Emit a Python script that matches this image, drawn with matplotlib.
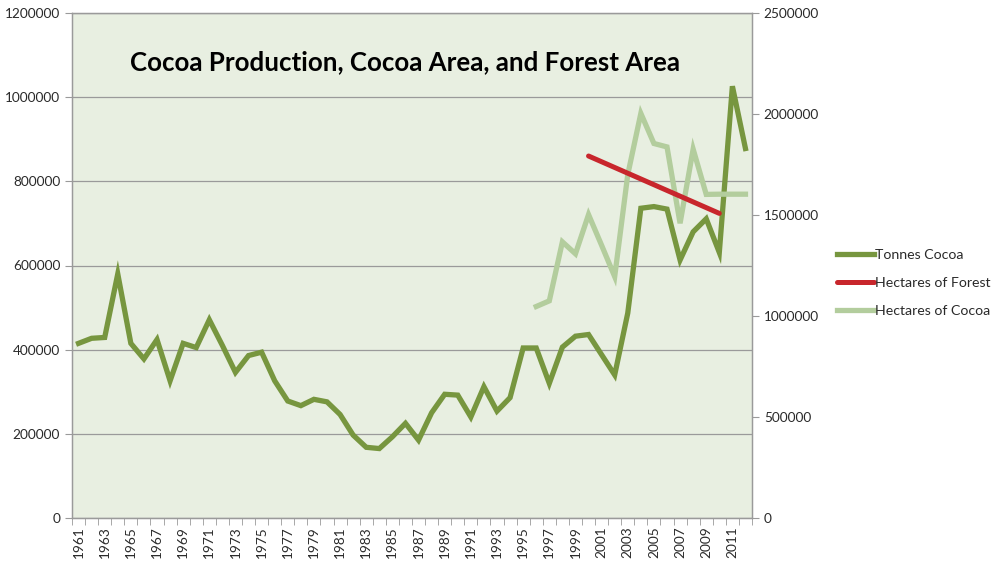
import matplotlib
matplotlib.use('Agg')
import matplotlib.pyplot as plt
from matplotlib.ticker import FixedLocator, NullFormatter, FuncFormatter

# yearly data
years = list(range(1961, 2013))
tonnes_cocoa = [415000, 427000, 429000, 580000, 415000, 378000, 424000, 326000, 415000, 405000,
                471000, 410000, 346000, 386000, 394000, 326000, 278000, 267000, 282000, 276000,
                246000, 197000, 168000, 165000, 193000, 225000, 185000, 250000, 294000, 292000,
                240000, 312000, 254000, 286000, 404000, 404000, 320000, 406000, 432000, 436000,
                388000, 340000, 487000, 736000, 740000, 734000, 613000, 680000, 711000, 631000,
                1026000, 878000]

cocoa_area_years = list(range(1996, 2013))
cocoa_area = [1047000, 1075000, 1367000, 1308000, 1502000, 1350000, 1195000, 1700000, 2003000,
              1854000, 1837000, 1459000, 1826000, 1602000, 1603000, 1603000, 1603000]

forest_years = [2000, 2010]
forest_area = [1792000, 1508000]

plt.rcParams['font.family'] = ['Lato', 'DejaVu Sans']

dark_green = '#77963f'
light_green = '#b3cd9d'
red = '#c8262c'
grid_col = '#9a9a9a'
txt_col = '#2a2a2a'

fig = plt.figure(figsize=(9.91, 5.62), dpi=100)
ax1 = fig.add_axes([72/991, 1-518/562, 680/991, 505/562])
ax1.set_facecolor('#e8efe1')
ax2 = ax1.twinx()

idx = {y: i for i, y in enumerate(years)}

l1, = ax1.plot([idx[y] for y in years], tonnes_cocoa, color=dark_green, lw=3.8,
               solid_joinstyle='miter', label='Tonnes Cocoa', zorder=3)
l3, = ax2.plot([idx[y] for y in cocoa_area_years], cocoa_area, color=light_green, lw=3.8,
               solid_joinstyle='miter', label='Hectares of Cocoa', zorder=2)
l2, = ax2.plot([idx[y] for y in forest_years], forest_area, color=red, lw=3.6,
               solid_capstyle='round', label='Hectares of Forest', zorder=3)

ax1.set_xlim(-0.5, len(years) - 0.5)
ax1.set_ylim(0, 1200000)
ax2.set_ylim(0, 2500000)
ax1.set_yticks(range(0, 1200001, 200000))
ax2.set_yticks(range(0, 2500001, 500000))
plain = FuncFormatter(lambda v, p: '%d' % v)
ax1.yaxis.set_major_formatter(plain)
ax2.yaxis.set_major_formatter(plain)
ax1.yaxis.grid(True, color=grid_col, lw=0.9)
ax1.set_axisbelow(True)

ax1.set_xticks(range(0, len(years), 2))
ax1.set_xticklabels([str(y) for y in years[::2]], rotation=90)
ax1.xaxis.set_minor_locator(FixedLocator([i - 0.5 for i in range(len(years) + 1)]))
ax1.xaxis.set_minor_formatter(NullFormatter())
ax1.tick_params(axis='x', which='major', length=0, pad=6)
ax1.tick_params(axis='x', which='minor', length=5, color=grid_col)

for ax in (ax1, ax2):
    ax.tick_params(axis='y', length=5, color=grid_col, labelsize=9.8, labelcolor=txt_col, pad=3.5)
    ax.tick_params(axis='x', labelsize=9.8, labelcolor=txt_col)
    for s in ax.spines.values():
        s.set_color(grid_col)
        s.set_linewidth(0.9)

ax1.text(0.49, 0.903, 'Cocoa Production, Cocoa Area, and Forest Area', transform=ax1.transAxes,
         ha='center', va='center', fontsize=18.6, fontweight='bold', color='black')

fig.legend([l1, l2, l3], ['Tonnes Cocoa', 'Hectares of Forest', 'Hectares of Cocoa'],
           loc='center left', bbox_to_anchor=(837/991, 1-283/562), frameon=False,
           fontsize=10.2, handlelength=2.6, handletextpad=0.05, labelspacing=1.1,
           borderaxespad=0, borderpad=0, labelcolor=txt_col)

fig.savefig('out.png', dpi=100)
